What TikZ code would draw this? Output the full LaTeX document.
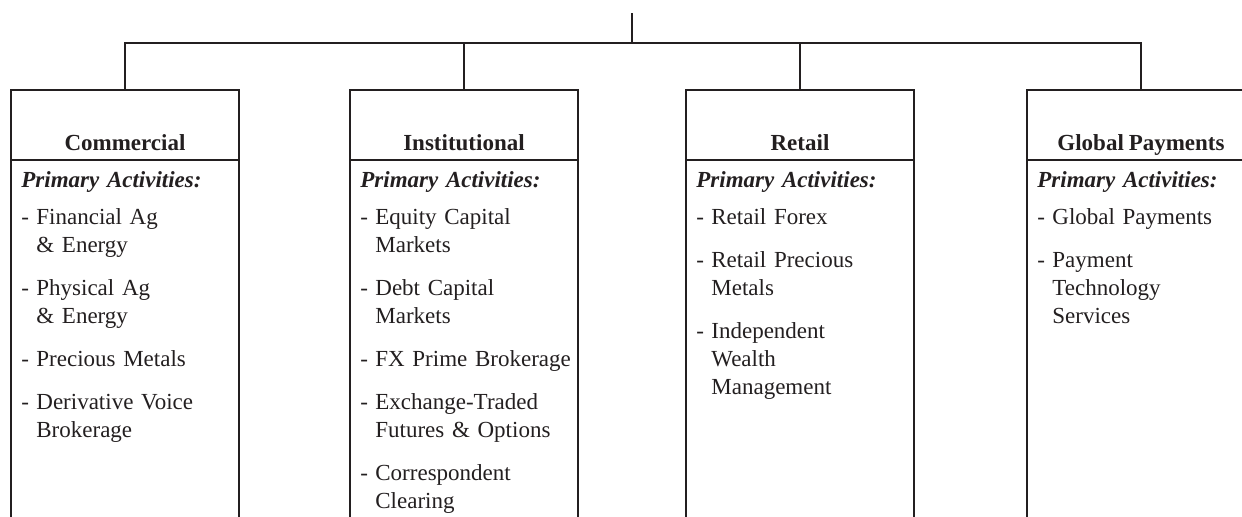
\documentclass[tikz,border=0pt]{standalone}
\usepackage{fontspec}
\setmainfont[WordSpace=0.85]{Liberation Serif}
\usetikzlibrary{positioning}

\definecolor{inkgray}{HTML}{231F20}

\newcommand{\primhead}{\textbf{\textit{Primary Activities:}}\par\vspace{-3pt}}
\newcommand{\actitem}[1]{\par\vspace{7.5pt}\noindent\hangindent=7.5pt\hangafter=1\makebox[7.5pt][l]{-}#1}

\begin{document}
\begin{tikzpicture}[x=0.5pt,y=-0.5pt,
    unitbox/.style={draw=inkgray, line width=1pt, minimum width=114pt, minimum height=250pt, inner sep=0pt, anchor=north},
    headtext/.style={font=\fontsize{11.5pt}{14pt}\selectfont\bfseries, text=inkgray, anchor=base, inner sep=0pt},
    actlist/.style={font=\fontsize{11.5pt}{14pt}\selectfont\raggedright, text=inkgray, text width=108pt, anchor=base west, inner sep=0pt},
    link/.style={draw=inkgray, line width=1pt}]
        \useasboundingbox (0,0) rectangle (1242,516);
        \clip (0,0) rectangle (1242,516);

        % the four units
        \node[unitbox] (com) at (125,89) {};
        \node[unitbox] (inst) at (464,89) {};
        \node[unitbox] (ret) at (800,89) {};
        \node[unitbox] (glob) at (1141,89) {};
        \foreach \u in {com,inst,ret,glob}
            \draw[link] ([yshift=-35.5pt]\u.north west) -- ([yshift=-35.5pt]\u.north east);

        \node[headtext] (comhead) at ([yshift=-30.5pt]com.north) {Commercial};
        \node[headtext] (insthead) at ([yshift=-30.5pt]inst.north) {Institutional};
        \node[headtext] (rethead) at ([yshift=-30.5pt]ret.north) {Retail};
        \node[headtext] (globhead) at ([yshift=-30.5pt]glob.north) {Global Payments};

        % tree lines
        \coordinate (top) at (632,13);
        \coordinate (bar) at (632,43);
        \draw[link] (top) -- (bar);
        \draw[link] (com.north) -- (com.north |- bar) -- (glob.north |- bar) -- (glob.north);
        \foreach \u in {inst,ret}
            \draw[link] (\u.north) -- (\u.north |- bar);

        % activities
        \node[actlist] (comlist) at ([xshift=5.5pt,yshift=-49pt]com.north west) {\primhead
            \actitem{Financial Ag\newline\& Energy}
            \actitem{Physical Ag\newline\& Energy}
            \actitem{Precious Metals}
            \actitem{Derivative Voice\newline Brokerage}\par};
        \node[actlist] (instlist) at ([xshift=5.5pt,yshift=-49pt]inst.north west) {\primhead
            \actitem{Equity Capital\newline Markets}
            \actitem{Debt Capital\newline Markets}
            \actitem{FX Prime Brokerage}
            \actitem{Exchange-Traded\newline Futures \& Options}
            \actitem{Correspondent\newline Clearing}\par};
        \node[actlist] (retlist) at ([xshift=5.5pt,yshift=-49pt]ret.north west) {\primhead
            \actitem{Retail Forex}
            \actitem{Retail Precious\newline Metals}
            \actitem{Independent\newline Wealth\newline Management}\par};
        \node[actlist] (globlist) at ([xshift=5.5pt,yshift=-49pt]glob.north west) {\primhead
            \actitem{Global Payments}
            \actitem{Payment\newline Technology\newline Services}\par};
\end{tikzpicture}
\end{document}
